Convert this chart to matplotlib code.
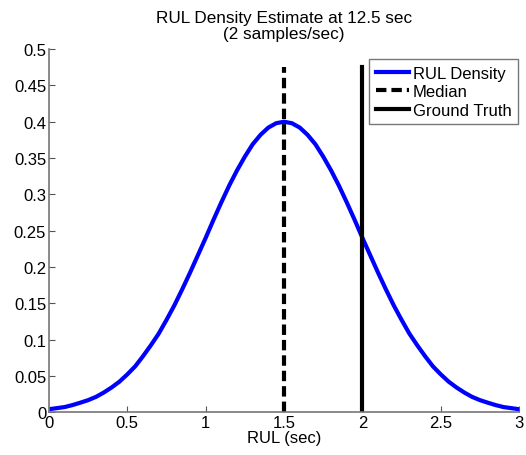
import matplotlib
matplotlib.use("Agg")
import matplotlib.pyplot as plt

plt.rcParams["font.family"] = ["Liberation Sans", "DejaVu Sans"]

# RUL density curve
rul_x = [0.0, 0.05, 0.1, 0.15, 0.2, 0.25, 0.3, 0.35, 0.4, 0.45, 0.5, 0.55, 0.6, 0.65, 0.7, 0.75,
         0.8, 0.85, 0.9, 0.95, 1.0, 1.05, 1.1, 1.15, 1.2, 1.25, 1.3, 1.35, 1.4, 1.45, 1.5,
         1.55, 1.6, 1.65, 1.7, 1.75, 1.8, 1.85, 1.9, 1.95, 2.0, 2.05, 2.1, 2.15, 2.2, 2.25,
         2.3, 2.35, 2.4, 2.45, 2.5, 2.55, 2.6, 2.65, 2.7, 2.75, 2.8, 2.85, 2.9, 2.95, 3.0]
rul_density = [0.004, 0.0055, 0.007, 0.0097, 0.013, 0.0165, 0.021, 0.027, 0.034, 0.042, 0.052,
               0.063, 0.077, 0.092, 0.108, 0.127, 0.147, 0.169, 0.192, 0.216, 0.240, 0.265,
               0.289, 0.312, 0.333, 0.352, 0.369, 0.382, 0.392, 0.398, 0.400,
               0.398, 0.392, 0.382, 0.369, 0.352, 0.333, 0.312, 0.289, 0.265, 0.240, 0.216,
               0.192, 0.169, 0.147, 0.127, 0.108, 0.092, 0.077, 0.063, 0.052, 0.042, 0.034,
               0.027, 0.021, 0.0165, 0.013, 0.0097, 0.007, 0.0055, 0.004]
median_x = 1.5
ground_truth_x = 2.0
vline_top = 0.475

fig = plt.figure(figsize=(5.26, 4.56), dpi=100)
ax = fig.add_axes([0.093, 0.094, 0.894, 0.796])

ax.plot(rul_x, rul_density, color="#0000ff", linewidth=3, label="RUL Density")
ax.plot([median_x, median_x], [0, vline_top], color="black", linestyle=(0, (2.5, 1.2)),
        linewidth=3, label="Median")
ax.plot([ground_truth_x, ground_truth_x], [0, vline_top], color="black", linewidth=3,
        label="Ground Truth")

ax.set_xlim(0, 3)
ax.set_ylim(0, 0.5)
ax.set_xticks([0, 0.5, 1, 1.5, 2, 2.5, 3])
ax.set_xticklabels(["0", "0.5", "1", "1.5", "2", "2.5", "3"])
ax.set_yticks([0, 0.05, 0.1, 0.15, 0.2, 0.25, 0.3, 0.35, 0.4, 0.45, 0.5])
ax.set_yticklabels(["0", "0.05", "0.1", "0.15", "0.2", "0.25", "0.3", "0.35", "0.4", "0.45", "0.5"])
ax.tick_params(direction="in", length=4, labelsize=12, colors="#555555", labelcolor="black", pad=2)
ax.spines["top"].set_visible(False)
ax.spines["right"].set_visible(False)
for side in ("left", "bottom"):
    ax.spines[side].set_color("#777777")
    ax.spines[side].set_linewidth(1.2)

ax.set_xlabel("RUL (sec)", fontsize=12, labelpad=0)
ax.set_title("RUL Density Estimate at 12.5 sec\n(2 samples/sec)", fontsize=12.3, linespacing=1.05, pad=8)

leg = ax.legend(loc="upper right", fontsize=12, frameon=True, fancybox=False,
                handlelength=2.0, handletextpad=0.2, borderpad=0.4, labelspacing=0.2,
                borderaxespad=0, bbox_to_anchor=(0.998, 0.972))
leg.get_frame().set_edgecolor("#555555")
leg.get_frame().set_linewidth(1.0)

fig.savefig("out.png", dpi=100)
